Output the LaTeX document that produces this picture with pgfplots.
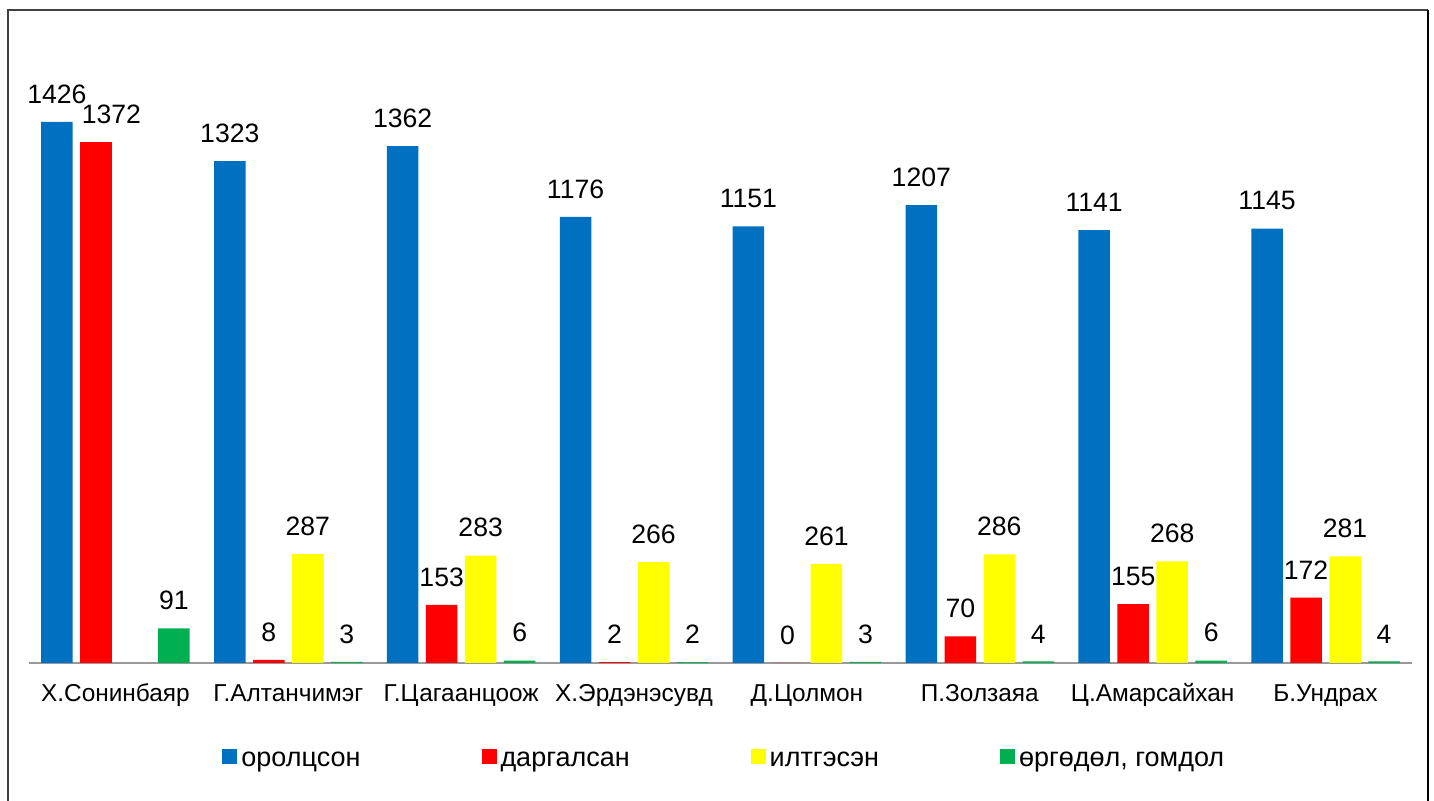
\documentclass[border=0pt]{standalone}
\usepackage{pgfplots}
\pgfplotsset{compat=1.18}
\usepackage{fontspec}
\setmainfont{Liberation Sans}
\definecolor{cblue}{HTML}{0070C0}
\definecolor{cred}{HTML}{FF0000}
\definecolor{cyellow}{HTML}{FFFF00}
\definecolor{cgreen}{HTML}{00B050}
\pgfplotsset{sq/.style={legend image code/.code={\fill[#1] (0pt,-1.75pt) rectangle (7.5pt,5.75pt);}}}
\begin{document}
\begin{tikzpicture}
\useasboundingbox (0,0) rectangle (717pt,400.5pt);
\draw[line width=0.8pt, black!75] (4pt,0) -- (4pt,395.5pt) -- (714pt,395.5pt);
\draw[line width=1.4pt, black] (714pt,395.5pt) -- (714pt,0);
\begin{axis}[
 at={(14.5pt,69pt)}, anchor=south west,
 width=691.5pt, height=284.55pt, scale only axis,
 xmin=-0.5, xmax=7.5, ymin=0, ymax=1500,
 axis x line=bottom, axis y line=none,
 x axis line style={-, line width=1pt, draw=black!40},
 xtick={0,...,7},
 xticklabels={Х.Сонинбаяр,Г.Алтанчимэг,Г.Цагаанцоож,Х.Эрдэнэсувд,Д.Цолмон,П.Золзаяа,Ц.Амарсайхан,Б.Ундрах},
 major tick length=0pt,
 xticklabel style={font=\fontsize{12.2}{14}\selectfont, anchor=base, yshift=-19.3pt},
 ybar, bar width=15.75pt,
 nodes near coords,
 nodes near coords style={font=\fontsize{13.3}{15}\selectfont, yshift=5.7pt},
 /pgf/number format/assume math mode=true, /pgf/number format/1000 sep={},
 legend columns=4,
 legend style={at={(0.5035,-0.172)}, anchor=center, draw=none, fill=none,
   font=\fontsize{13.5}{16}\selectfont,
   /tikz/every even column/.append style={column sep=58.5pt}},
]
\addplot[fill=cblue, draw=none, bar shift=-29.25pt, sq=cblue] coordinates {(0,1426) (1,1323) (2,1362) (3,1176) (4,1151) (5,1207) (6,1141) (7,1145)};
\addlegendentry{оролцсон}
\addplot[fill=cred, draw=none, bar shift=-9.75pt, sq=cred] coordinates {(1,8) (2,153) (3,2) (4,0) (5,70) (6,155) (7,172)};
\addlegendentry{даргалсан}
\addplot[fill=cyellow, draw=none, bar shift=9.75pt, sq=cyellow] coordinates {(1,287) (2,283) (3,266) (4,261) (5,286) (6,268) (7,281)};
\addlegendentry{илтгэсэн}
\addplot[fill=cgreen, draw=none, bar shift=29.25pt, sq=cgreen] coordinates {(0,91) (1,3) (2,6) (3,2) (4,3) (5,4) (6,6) (7,4)};
\addlegendentry{өргөдөл, гомдол}
\addplot[fill=cred, draw=none, bar shift=-9.75pt, forget plot,
  nodes near coords style={xshift=7.75pt}] coordinates {(0,1372)};
\end{axis}
\end{tikzpicture}
\end{document}
